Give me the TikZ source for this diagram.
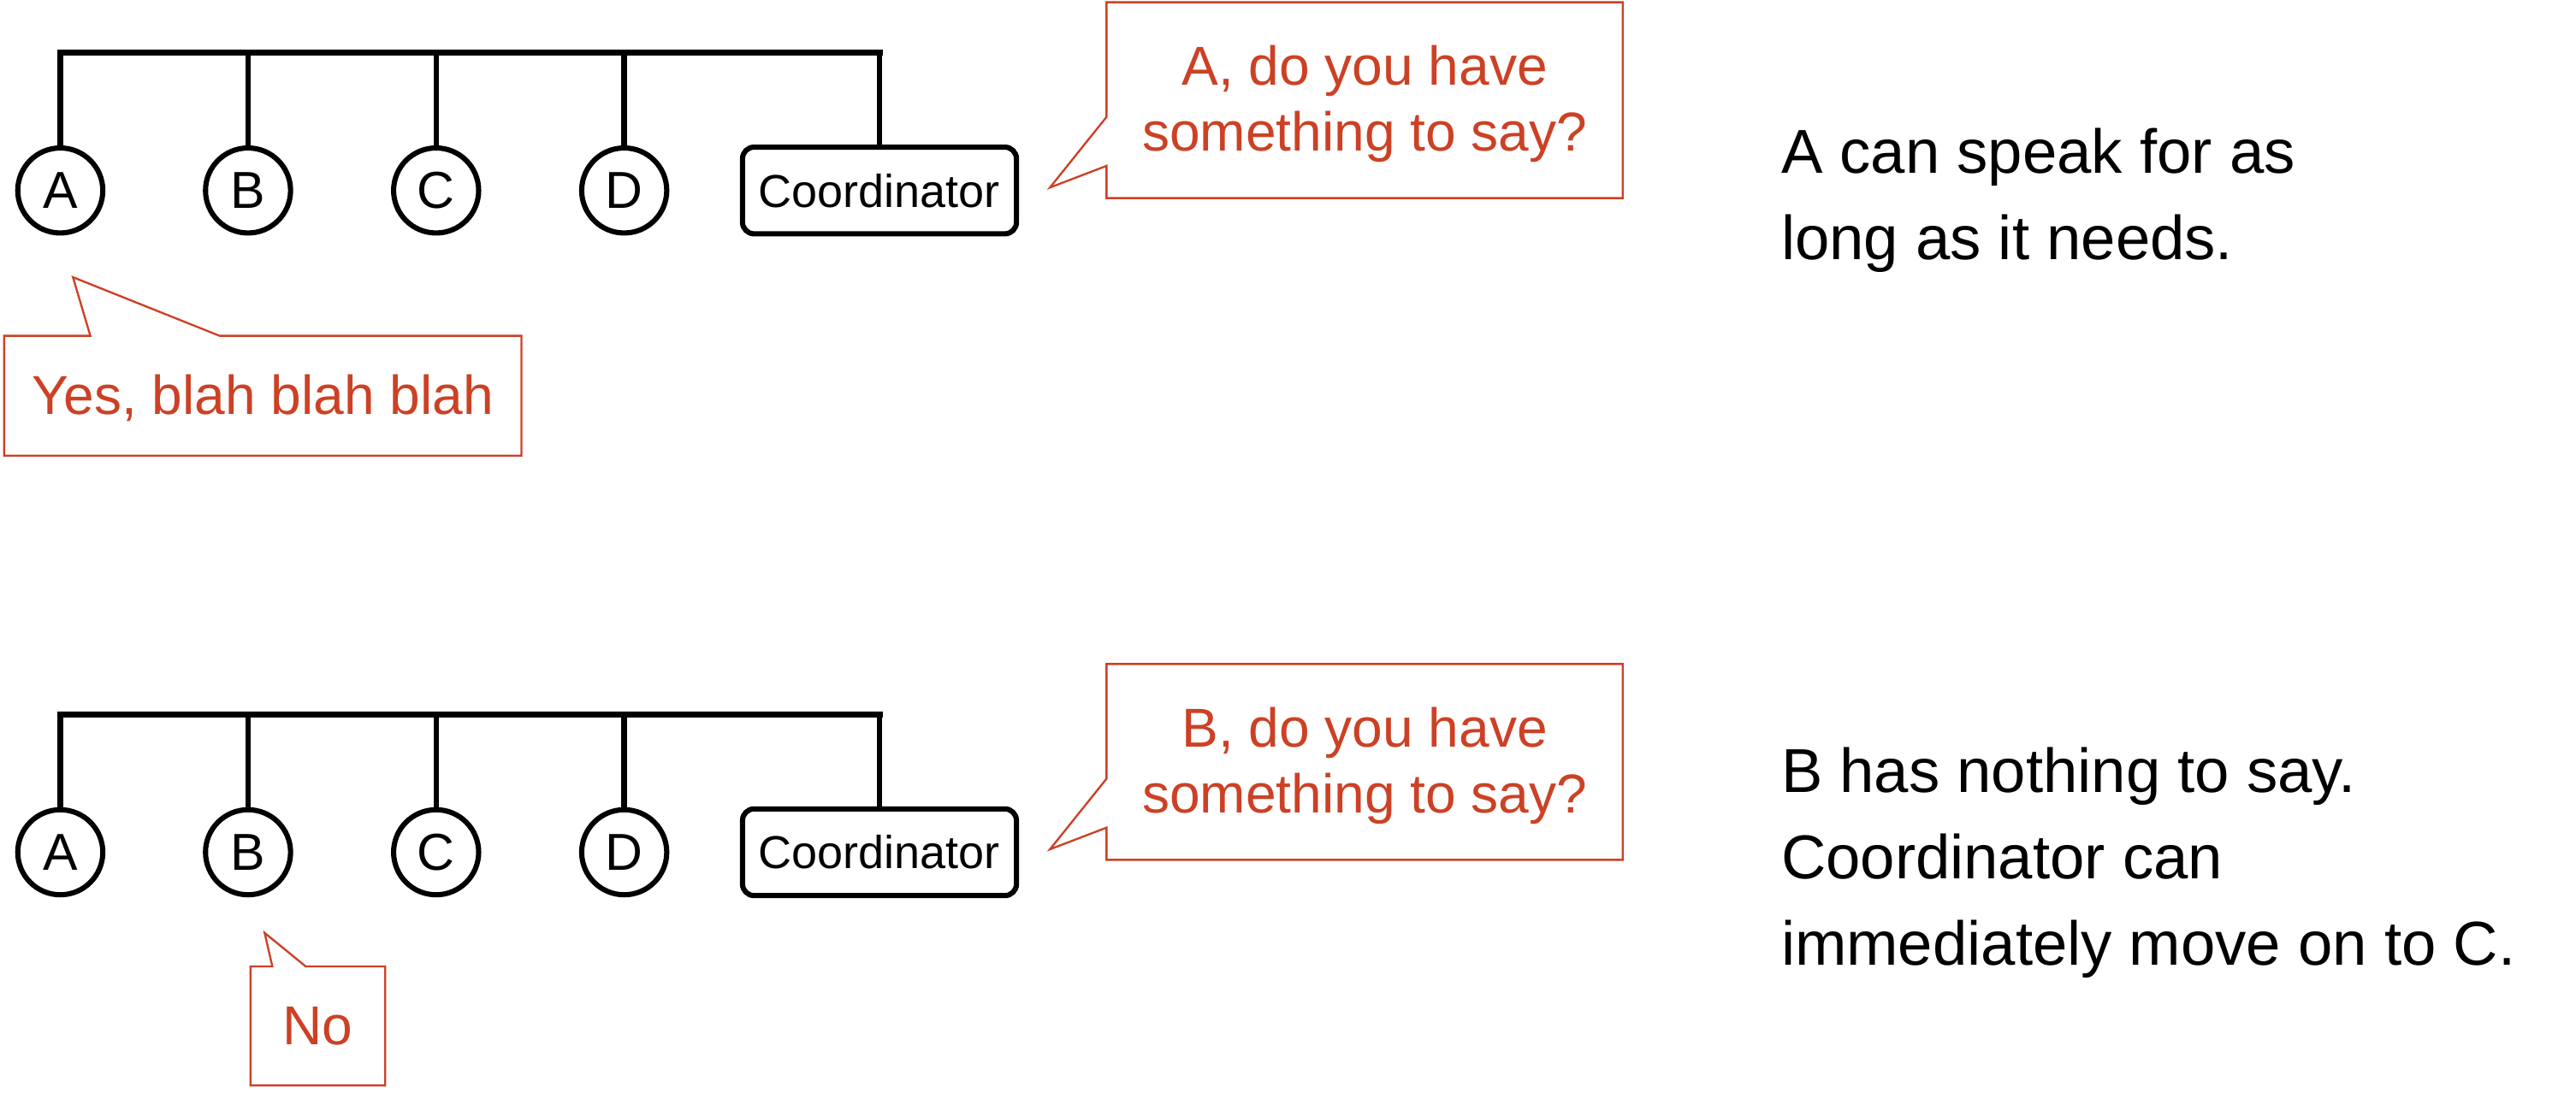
\documentclass[tikz,border=0pt]{standalone}
\usepackage{fontspec}
\setmainfont{Liberation Sans}
\definecolor{sayred}{HTML}{CC4125}
\tikzset{
  peer/.style={circle, draw, line width=1.8pt, minimum size=1.036cm, inner sep=0pt, font=\fontsize{18}{21}\selectfont},
  coordbox/.style={draw, rounded corners=4pt, line width=1.8pt, minimum width=3.336cm, minimum height=1.056cm, inner sep=0pt, font=\fontsize{16}{19}\selectfont},
  bus/.style={line width=2.2pt, line cap=rect},
  drop/.style={line width=1.9pt},
  saybox/.style={inner sep=0pt, outer sep=0pt, align=center, text=sayred, text height=13pt, text depth=0pt, font=\fontsize{19}{22.8}\selectfont},
  sayline/.style={draw=sayred, line width=0.7pt, line join=miter},
  note/.style={anchor=base west, align=left, inner sep=0pt, font=\fontsize{21.5}{29.9}\selectfont}
}
\begin{document}
\begin{tikzpicture}[x=0.02cm, y=-0.02cm]
\pgfmathsetmacro{\gap}{403};
\useasboundingbox (0,0) rectangle (1568.2,665.6);
% first round: A is asked and answers
\begin{scope}
\coordinate (bus1) at (0,32);
\foreach \n/\x in {A/36.7,B/151,C/265.5,D/380}
  \node[peer] (\n1) at (\x,116) {\n};
\node[coordbox] (coord1) at (535.4,116) {Coordinator};
\draw[bus] (A1.north |- bus1) -- (coord1.north |- bus1);
\foreach \n in {A1,B1,C1,D1,coord1}
  \draw[drop] (\n.north) -- (\n.north |- bus1);
\node[saybox, text height=35.2pt, minimum width=6.286cm, minimum height=2.386cm] (ask1) at (830.75,61) {A, do you have\\something to say?};
\coordinate (tip1) at (639.2,114.2);
\draw[sayline] (ask1.north west) -- (ask1.north east) -- (ask1.south east) -- (ask1.south west)
  -- (ask1.west |- 0,101) -- (tip1) -- (ask1.west |- 0,71.2) -- cycle;
\node[saybox, minimum width=6.3cm, minimum height=1.46cm] (yes1) at (160,241) {Yes, blah blah blah};
\coordinate (tip2) at (44.4,168.8);
\draw[sayline] (yes1.north west) -- (yes1.north -| 55,0) -- (tip2) -- (yes1.north -| 133.7,0)
  -- (yes1.north east) -- (yes1.south east) -- (yes1.south west) -- cycle;
\node[note] (info1) at (1084,158) {A can speak for as\\long as it needs.};
\end{scope}
% second round: B has nothing
\begin{scope}[shift={(0,\gap)}]
\coordinate (bus2) at (0,32);
\foreach \n/\x in {A/36.7,B/151,C/265.5,D/380}
  \node[peer] (\n2) at (\x,116) {\n};
\node[coordbox] (coord2) at (535.4,116) {Coordinator};
\draw[bus] (A2.north |- bus2) -- (coord2.north |- bus2);
\foreach \n in {A2,B2,C2,D2,coord2}
  \draw[drop] (\n.north) -- (\n.north |- bus2);
\node[saybox, text height=35.2pt, minimum width=6.286cm, minimum height=2.386cm] (ask2) at (830.75,61) {B, do you have\\something to say?};
\coordinate (tip3) at (639.2,114.2);
\draw[sayline] (ask2.north west) -- (ask2.north east) -- (ask2.south east) -- (ask2.south west)
  -- (ask2.west |- 0,101) -- (tip3) -- (ask2.west |- 0,71.2) -- cycle;
\node[saybox, minimum width=1.64cm, minimum height=1.45cm] (no2) at (193.5,221.75) {No};
\coordinate (tip4) at (161.1,165.1);
\draw[sayline] (no2.north west) -- (no2.north -| 165.8,0) -- (tip4) -- (no2.north -| 186.1,0)
  -- (no2.north east) -- (no2.south east) -- (no2.south west) -- cycle;
\node[note] (info2) at (1084,184.6) {B has nothing to say.\\Coordinator can\\immediately move on to C.};
\end{scope}
\end{tikzpicture}
\end{document}
